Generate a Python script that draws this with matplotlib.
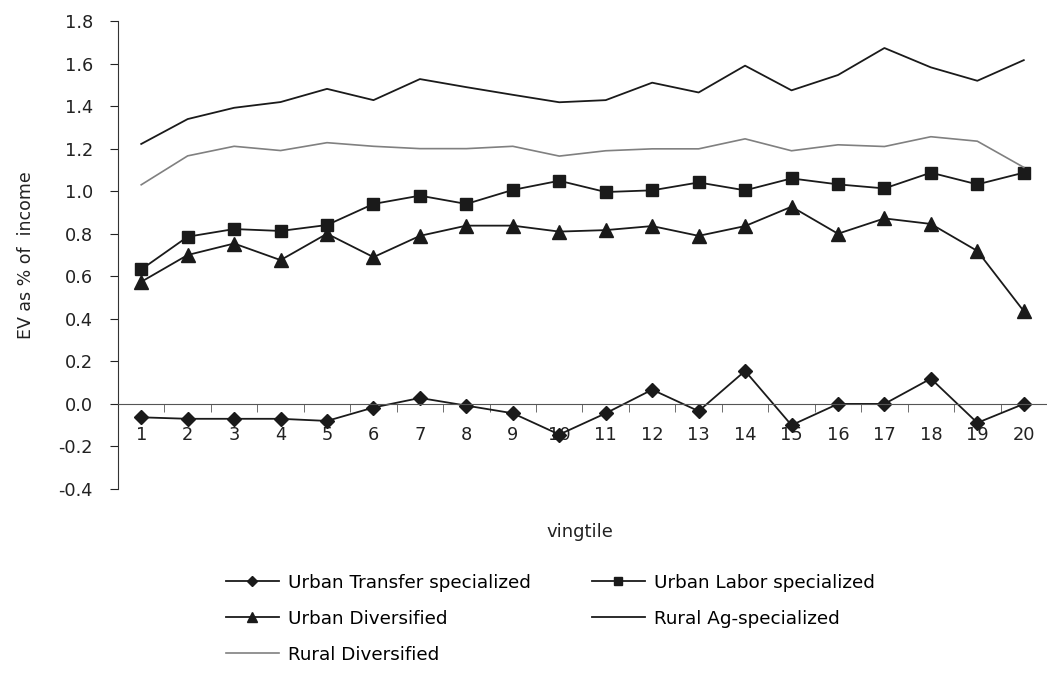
import matplotlib
matplotlib.use("Agg")
import matplotlib.pyplot as plt
import numpy as np

vingtile = list(range(1, 21))
urban_transfer = [-0.063, -0.07, -0.07, -0.07, -0.08, -0.017, 0.028, -0.008, -0.044, -0.144,
                  -0.044, 0.067, -0.034, 0.155, -0.10, 0.0, 0.0, 0.119, -0.089, 0.0]
urban_labor = [0.632, 0.786, 0.822, 0.813, 0.841, 0.94, 0.979, 0.94, 1.006, 1.049,
               0.996, 1.004, 1.041, 1.004, 1.06, 1.032, 1.013, 1.087, 1.032, 1.087]
urban_div = [0.574, 0.70, 0.754, 0.676, 0.80, 0.69, 0.79, 0.838, 0.838, 0.81,
             0.817, 0.836, 0.79, 0.836, 0.927, 0.80, 0.872, 0.846, 0.719, 0.436]
rural_ag = [1.222, 1.339, 1.392, 1.419, 1.481, 1.428, 1.527, 1.489, 1.453, 1.418,
            1.428, 1.51, 1.464, 1.59, 1.474, 1.546, 1.673, 1.582, 1.519, 1.616]
rural_div = [1.03, 1.166, 1.211, 1.191, 1.228, 1.211, 1.2, 1.2, 1.211, 1.165,
             1.19, 1.199, 1.199, 1.246, 1.19, 1.218, 1.21, 1.256, 1.235, 1.112]

plt.rcParams['font.family'] = ['DejaVu Sans']
plt.rcParams['font.size'] = 12

fig = plt.figure(figsize=(10.47, 6.73), dpi=100)
ax = fig.add_axes([0.1127, 0.2734, 0.8873, 0.6954])

l1, = ax.plot(vingtile, urban_transfer, color='#1a1a1a', lw=1.3, marker='D', ms=7)
l2, = ax.plot(vingtile, urban_labor, color='#1a1a1a', lw=1.3, marker='s', ms=8.5)
l3, = ax.plot(vingtile, urban_div, color='#1a1a1a', lw=1.3, marker='^', ms=10)
l4, = ax.plot(vingtile, rural_ag, color='#1a1a1a', lw=1.3)
l5, = ax.plot(vingtile, rural_div, color='#808080', lw=1.2)

ax.set_xlim(0.5, 20.5)
ax.set_ylim(-0.4, 1.8)
ax.set_yticks(np.arange(-0.4, 1.81, 0.2))
ax.set_yticklabels([f"{v:.1f}" for v in np.arange(-0.4, 1.81, 0.2)])

ax.spines['top'].set_visible(False)
ax.spines['right'].set_visible(False)
ax.spines['bottom'].set_position(('data', 0))
ax.spines['bottom'].set_color('#555555')
ax.spines['left'].set_color('#333333')

ax.set_xticks(vingtile)
ax.set_xticks(np.arange(1.5, 20, 1), minor=True)
ax.tick_params(axis='x', which='major', length=0, pad=16, labelsize=12.8, colors='#222222')
ax.tick_params(axis='x', which='minor', length=6, direction='out', color='#555555')
ax.tick_params(axis='y', length=6, direction='out', pad=12, labelsize=12.8, colors='#222222')

ax.set_ylabel("EV as % of  income", fontsize=12.5, labelpad=17, color='#222222')
fig.text(0.554, 0.21, "vingtile", ha='center', va='center', fontsize=13, color='#222222')

handles = [l1, l3, l5, l2, l4]
labels = ["Urban Transfer specialized", "Urban Diversified", "Rural Diversified",
          "Urban Labor specialized", "Rural Ag-specialized"]
fig.legend(handles, labels, ncol=2, loc='upper left', bbox_to_anchor=(0.207, 0.161),
           frameon=False, handlelength=2.9, columnspacing=3.3, labelspacing=0.98,
           fontsize=13.2, handletextpad=0.5, borderpad=0, markerscale=0.75)

fig.savefig("out.png", dpi=100)
